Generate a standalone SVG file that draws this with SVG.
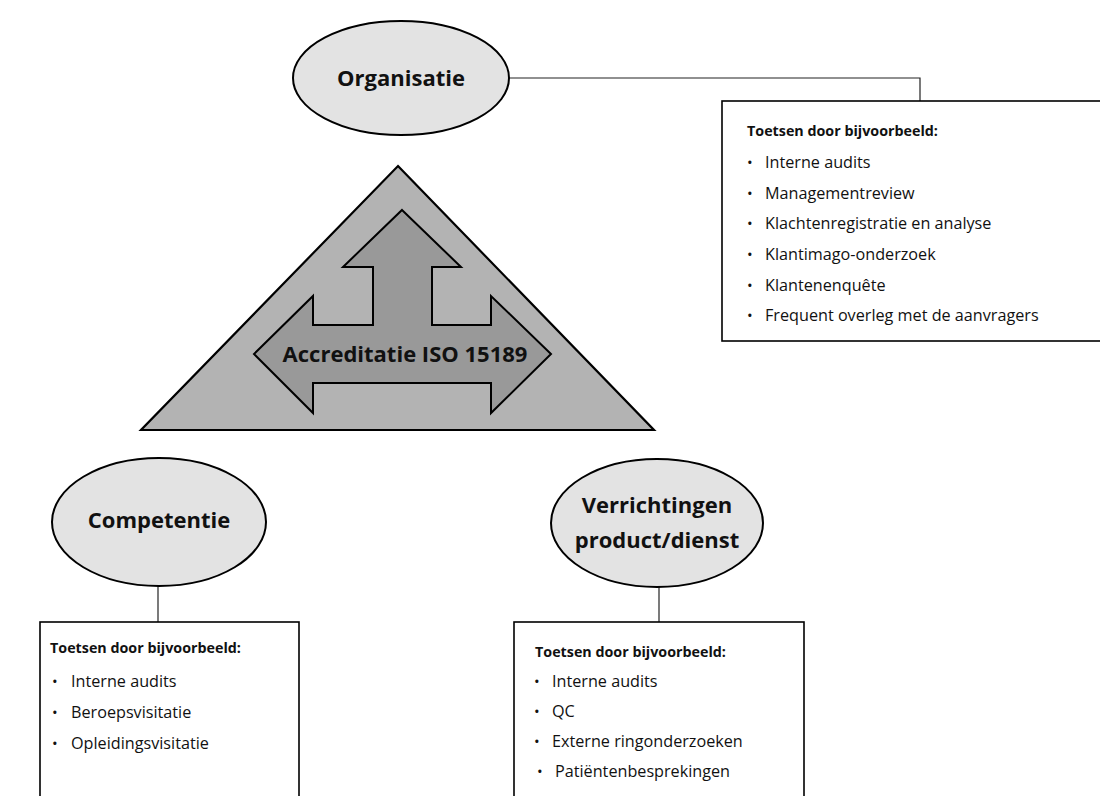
<svg xmlns="http://www.w3.org/2000/svg" width="1100" height="796" viewBox="0 0 1100 796">
<style>
.ell{fill:#e3e3e3;stroke:#000;stroke-width:2}
.lbl{font-family:"Open Sans","Noto Sans",sans-serif;font-weight:bold;font-size:22px;fill:#111;text-anchor:middle}
.box{fill:#fff;stroke:#000;stroke-width:1.6}
.ttl{font-family:"Open Sans","Noto Sans",sans-serif;font-weight:bold;font-size:14.3px;fill:#111}
.itm{font-family:"Open Sans","Noto Sans",sans-serif;font-size:16.2px;fill:#111}
.bul{font-family:"Open Sans","Noto Sans",sans-serif;font-size:15px;fill:#111}
.con{fill:none;stroke:#222;stroke-width:1.2}
</style>
<rect width="1100" height="796" fill="#fff"/>
<g id="connectors">
<polyline class="con" points="509,78 920,78 920,101"/>
<line class="con" x1="158" y1="586" x2="158" y2="622"/>
<line class="con" x1="659" y1="587" x2="659" y2="622"/>
</g>
<g id="accreditatie">
<polygon points="398,166 654,430 141,430" fill="#b3b3b3" stroke="#000" stroke-width="2.2" stroke-linejoin="miter"/>
<polygon points="402,210 461,267 432,267 432,325 491,325 491,296 551,354 491,413 491,383 313,383 313,413 254,354 313,296 313,325 373,325 373,267 343,267" fill="#999" stroke="#000" stroke-width="2"/>
<text class="lbl" x="405" y="362">Accreditatie ISO 15189</text>
</g>
<g id="organisatie">
<ellipse class="ell" cx="401" cy="78" rx="108" ry="57"/>
<text class="lbl" x="401" y="86">Organisatie</text>
</g>
<g id="competentie">
<ellipse class="ell" cx="159" cy="522" rx="107" ry="64"/>
<text class="lbl" x="159" y="528">Competentie</text>
</g>
<g id="verrichtingen">
<ellipse class="ell" cx="657" cy="523" rx="106" ry="64"/>
<text class="lbl" x="657" y="513">Verrichtingen</text>
<text class="lbl" x="657" y="548">product/dienst</text>
</g>
<g id="box-organisatie">
<rect class="box" x="722" y="101" width="400" height="240"/>
<text class="ttl" x="747" y="136">Toetsen door bijvoorbeeld:</text>
<g class="bul"><text x="747" y="168">•</text><text x="747" y="199">•</text><text x="747" y="229">•</text><text x="747" y="260">•</text><text x="747" y="291">•</text><text x="747" y="321">•</text></g>
<text class="itm" x="765" y="168">Interne audits</text>
<text class="itm" x="765" y="199">Managementreview</text>
<text class="itm" x="765" y="229">Klachtenregistratie en analyse</text>
<text class="itm" x="765" y="260">Klantimago-onderzoek</text>
<text class="itm" x="765" y="291">Klantenenquête</text>
<text class="itm" x="765" y="321">Frequent overleg met de aanvragers</text>
</g>
<g id="box-competentie">
<rect class="box" x="40" y="622" width="259" height="200"/>
<text class="ttl" x="50" y="653">Toetsen door bijvoorbeeld:</text>
<g class="bul"><text x="52" y="687">•</text><text x="52" y="718">•</text><text x="52" y="749">•</text></g>
<text class="itm" x="71" y="687">Interne audits</text>
<text class="itm" x="71" y="718">Beroepsvisitatie</text>
<text class="itm" x="71" y="749">Opleidingsvisitatie</text>
</g>
<g id="box-verrichtingen">
<rect class="box" x="514" y="622" width="290" height="200"/>
<text class="ttl" x="535" y="657">Toetsen door bijvoorbeeld:</text>
<g class="bul"><text x="534" y="687">•</text><text x="534" y="717">•</text><text x="534" y="747">•</text><text x="537" y="777">•</text></g>
<text class="itm" x="552" y="687">Interne audits</text>
<text class="itm" x="552" y="717">QC</text>
<text class="itm" x="552" y="747">Externe ringonderzoeken</text>
<text class="itm" x="555" y="777">Patiëntenbesprekingen</text>
</g>
</svg>
